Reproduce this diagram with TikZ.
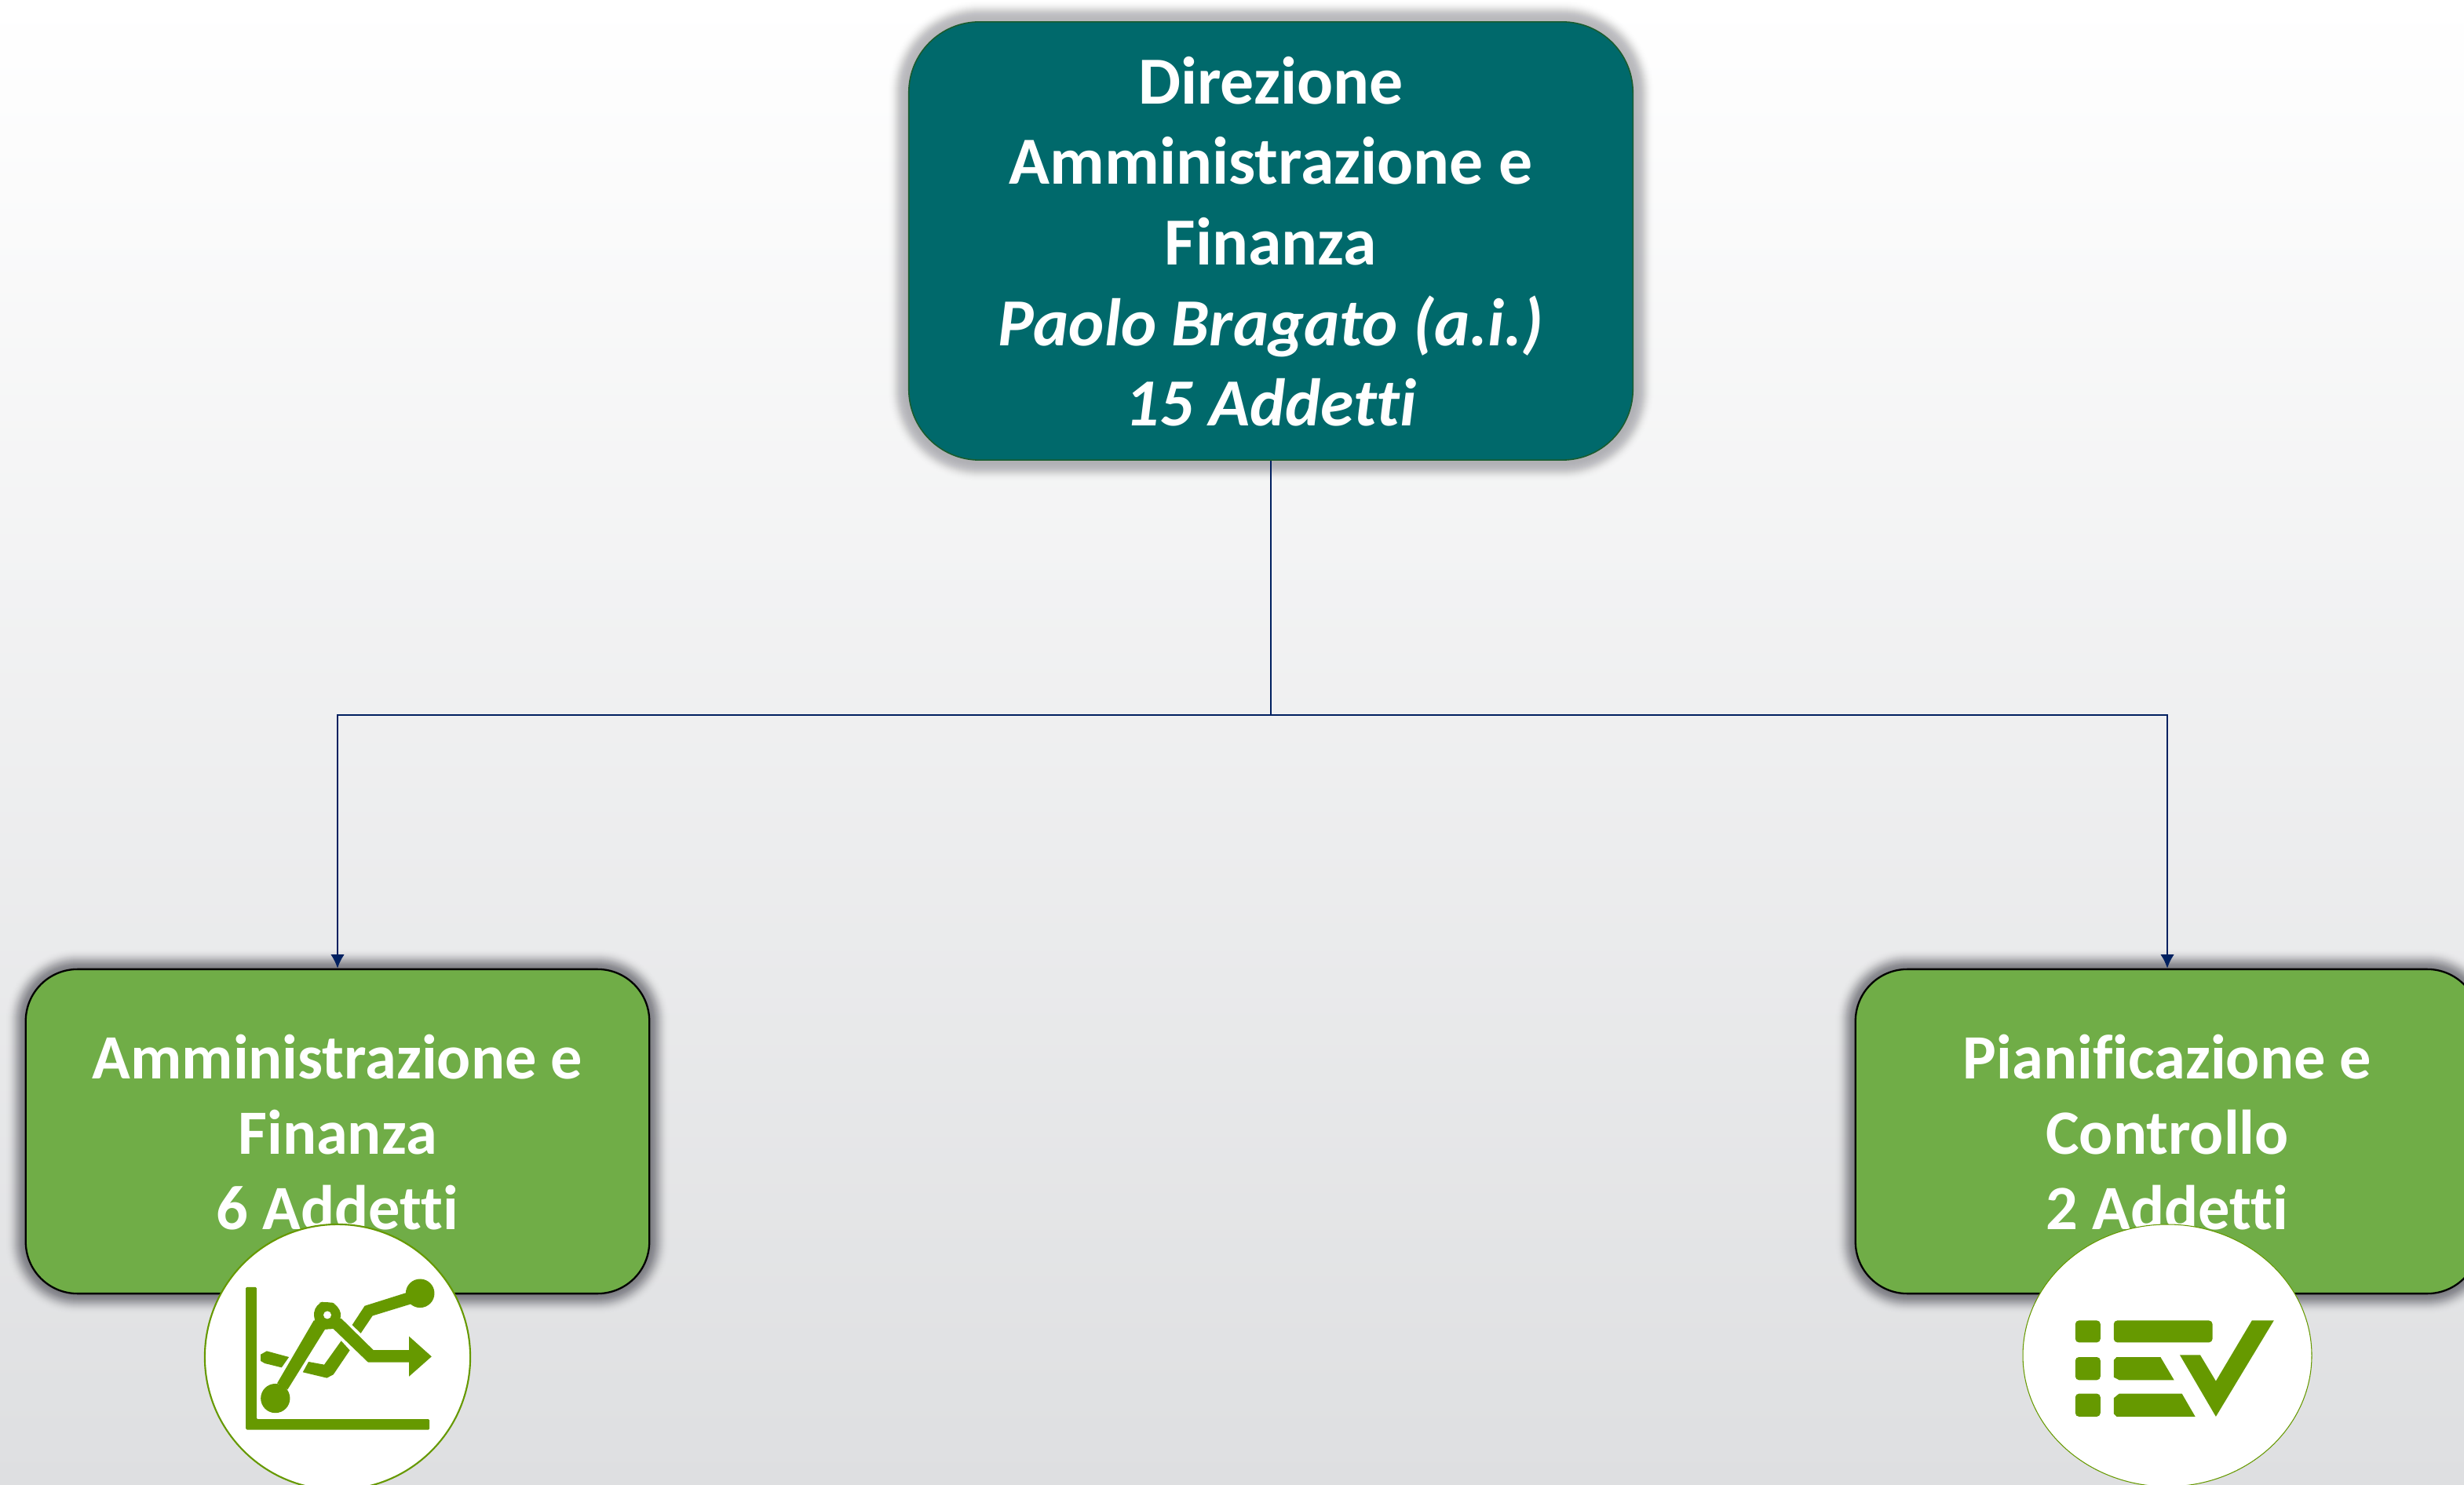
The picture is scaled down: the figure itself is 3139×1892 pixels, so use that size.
\documentclass[tikz,border=0pt]{standalone}
\usepackage{fontspec}
\setmainfont[Ligatures=NoCommon]{Carlito}
\usetikzlibrary{arrows.meta}
\definecolor{teal}{HTML}{00696B}
\definecolor{tealedge}{HTML}{1A5C2E}
\definecolor{leaf}{HTML}{70AD47}
\definecolor{iconc}{HTML}{669900}
\definecolor{navy}{HTML}{002060}
\definecolor{bgtop}{HTML}{FFFFFF}
\definecolor{bgbot}{HTML}{DEDFE1}
\definecolor{shadowc}{HTML}{10101C}
\tikzset{
  topbox/.style={rectangle,rounded corners=0.9cm,fill=teal,draw=tealedge,line width=0.45pt,
    minimum width=9.22cm,minimum height=5.58cm,inner sep=0pt,align=center,text=white,
    font=\fontsize{24.4}{29.2}\selectfont\bfseries},
  subbox/.style={rectangle,rounded corners=0.66cm,fill=leaf,draw=black,line width=0.65pt,
    minimum width=7.94cm,minimum height=4.13cm,inner sep=0pt,align=center,text=white,
    font=\fontsize{22.85}{27.3}\selectfont\bfseries},
  conn/.style={draw=navy,line width=0.7pt},
  connarrow/.style={conn,-{Latex[length=5pt,width=5pt]}},
  iconshape/.style={fill=iconc,draw=none},
  iconcircle/.style={circle,fill=white,draw=iconc,line width=0.6pt,minimum size=3.38cm,inner sep=0pt},
  iconellipse/.style={fill=white,draw=iconc,line width=0.3pt},
}
% \softshadow{x1}{y1}{x2}{y2}{radius}{centre}{sigma}{peak opacity}
\newcommand{\softshadow}[8]{%
  \foreach \d in {1,...,30}{%
    \pgfmathsetmacro{\rr}{(#5+\d)*0.01}%
    \pgfmathsetmacro{\op}{#8*exp(-((\d-#6)/#7)*((\d-#6)/#7)/2)}%
    \fill[shadowc,opacity=\op,rounded corners=\rr cm] (#1-\d,#2-\d) rectangle (#3+\d,#4+\d);
  }%
}
\newcommand{\lowered}[1]{\vbox{\vskip5.7pt\hbox{\begin{tabular}{@{}c@{}}#1\end{tabular}}}}
\begin{document}
\begin{tikzpicture}[x=0.01cm,y=-0.01cm]
\useasboundingbox (0,0) rectangle (3139,1892);
\clip (0,0) rectangle (3139,1892);
\shade[top color=bgtop,bottom color=bgbot] (0,0) rectangle (3139,1892);

\softshadow{1158}{28}{2080}{586}{90}{15}{6}{0.02}
\softshadow{33}{1235}{827}{1648}{66}{10}{7}{0.037}
\softshadow{2364}{1235}{3158}{1648}{66}{10}{7}{0.037}

\node[topbox] (top) at (1619,307) {\lowered{Direzione\\Amministrazione e\\Finanza\\\itshape Paolo Bragato (a.i.)\\\itshape 15 Addetti}};
\node[subbox] (af) at (430,1441.5) {\lowered{Amministrazione e\\Finanza\\6 Addetti}};
\node[subbox] (pc) at (2761,1441.5) {\lowered{Pianificazione e\\Controllo\\2 Addetti}};

\coordinate (bus) at (1619,911);
\draw[conn] (top.south) -- (bus);
\draw[connarrow] (bus) -| (af.north);
\draw[connarrow] (bus) -| (pc.north);

% left icon
\node[iconcircle] (afc) at (430,1729) {};
\begin{scope}[shift={(230,1520)},x=0.003333cm,y=-0.003333cm]
  \fill[iconshape,rounded corners=0.4pt] (250,360)--(291,360)--(291,866)--(953,866)--(953,906)--(250,906)--cycle;
  \fill[iconshape] (363,786) circle[radius=56];
  \fill[iconshape] (917,384) circle[radius=55];
  \fill[iconshape] (510,488)--(370,728)--(410,752)--(553,522)--(585,520)--(718,648)--(875,648)--(875,702)--(961,626)--(875,549)--(875,601)--(738,601)--(615,480)--cycle;
  \fill[iconshape,rounded corners=3pt] (508,490)--(515,425)--(560,412)--(608,430)--(618,490)--(585,520)--(530,522)--cycle;
  \fill[white] (562,467) circle[radius=15];
  \fill[iconshape] (307,618)--(330,605)--(415,628)--(387,668)--(322,652)--(307,643)--cycle;
  \fill[iconshape] (490,646)--(550,657)--(615,566)--(648,602)--(585,695)--(560,708)--(468,686)--cycle;
  \fill[iconshape] (657,505)--(705,432)--(870,380)--(885,424)--(735,470)--(690,537)--cycle;
\end{scope}

% right icon
\draw[iconellipse] (2761,1727) ellipse[x radius=184,y radius=167];
\begin{scope}[shift={(2540,1520)},x=0.003333cm,y=-0.003333cm]
  \fill[iconshape,rounded corners=1.3pt] (312,488) rectangle (408,572);
  \fill[iconshape,rounded corners=1.3pt] (312,628) rectangle (408,716);
  \fill[iconshape,rounded corners=1.3pt] (312,768) rectangle (408,856);
  \fill[iconshape,rounded corners=1.3pt] (459,488) rectangle (837,572);
  \fill[iconshape] (470,628)--(638,628)--(690,716)--(480,716)--(459,705)--(459,640)--cycle;
  \fill[iconshape] (480,768)--(720,768)--(771,856)--(470,856)--(459,845)--(459,785)--cycle;
  \fill[iconshape] (712,620)--(790,620)--(850,720)--(988,488)--(1072,488)--(850,856)--cycle;
\end{scope}
\end{tikzpicture}
\end{document}
